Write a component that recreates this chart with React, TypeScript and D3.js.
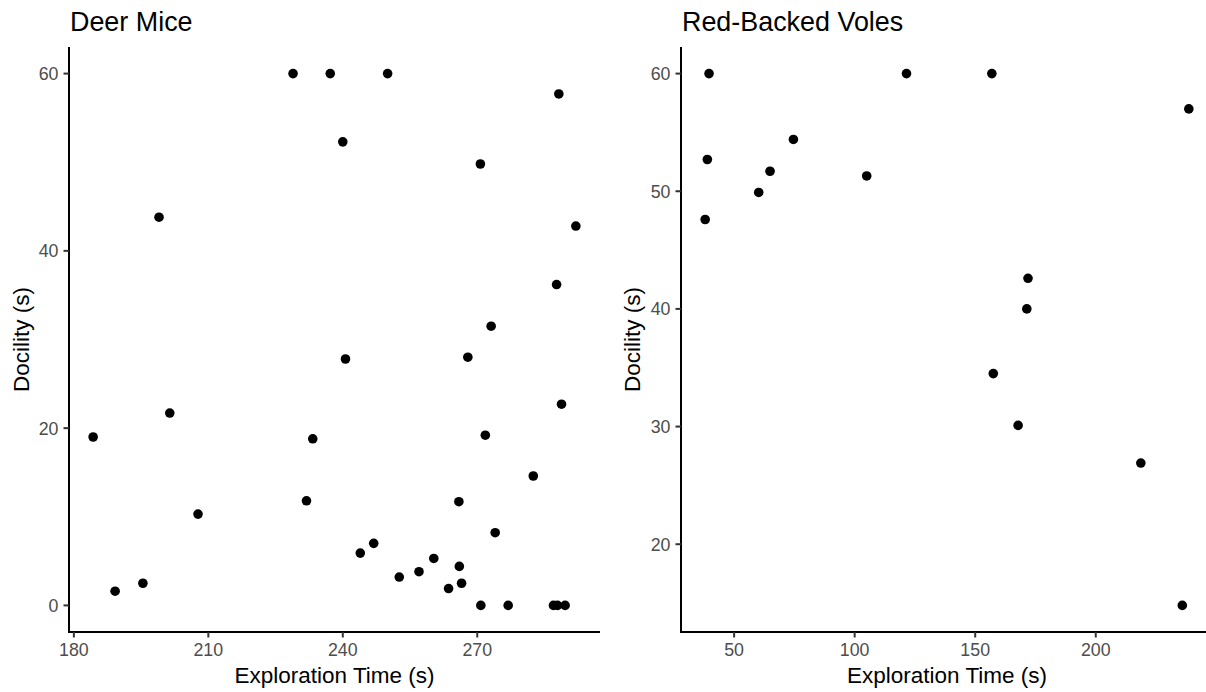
import React from "react";
import * as d3 from "d3";

// Deer Mice
const deerExploration = [
  228.9, 237.2, 250.0, 288.2, 240.0, 270.7, 199.0, 292.0, 287.7, 273.1,
  240.6, 267.9, 288.8, 201.4, 184.3, 233.3, 271.8, 189.2, 195.4, 207.7,
  231.9, 282.5, 265.9, 274.0, 243.9, 246.9, 260.3, 252.6, 257.0, 266.0,
  263.6, 266.5, 270.8, 276.9, 287.0, 287.9, 289.6,
];
const deerDocility = [
  60, 60, 60, 57.7, 52.3, 49.8, 43.8, 42.8, 36.2, 31.5,
  27.8, 28.0, 22.7, 21.7, 19.0, 18.8, 19.2, 1.6, 2.5, 10.3,
  11.8, 14.6, 11.7, 8.2, 5.9, 7.0, 5.3, 3.2, 3.8, 4.4,
  1.9, 2.5, 0, 0, 0, 0, 0,
];

// Red-Backed Voles
const voleExploration = [
  39.6, 38.9, 38.0, 60.2, 64.9, 74.6, 105.0, 121.5, 156.9, 238.6,
  171.9, 171.4, 157.5, 167.8, 218.7, 235.9,
];
const voleDocility = [
  60, 52.7, 47.6, 49.9, 51.7, 54.4, 51.3, 60, 60, 57.0,
  42.6, 40.0, 34.5, 30.1, 26.9, 14.8,
];

const deerXTicks = [180, 210, 240, 270];
const deerYTicks = [0, 20, 40, 60];
const voleXTicks = [50, 100, 150, 200];
const voleYTicks = [20, 30, 40, 50, 60];

const FONT = "'Liberation Sans', Arial, Helvetica, sans-serif";

function expand(vals: number[]): [number, number] {
  const [a, b] = d3.extent(vals) as [number, number];
  const p = (b - a) * 0.05;
  return [a - p, b + p];
}

type PanelProps = {
  title: string;
  xs: number[];
  ys: number[];
  xTicks: number[];
  yTicks: number[];
  left: number;
  right: number;
  yTitleX: number;
};

const TOP = 47;
const BOTTOM = 632;

function Panel({ title, xs, ys, xTicks, yTicks, left, right, yTitleX }: PanelProps) {
  const x = d3.scaleLinear().domain(expand(xs)).range([left, right]);
  const y = d3.scaleLinear().domain(expand(ys)).range([BOTTOM, TOP]);
  const tickLen = 5.5;
  return (
    <g>
      <text x={left + 1} y={30.5} fontSize={26.9} fontFamily={FONT} fill="#000">
        {title}
      </text>
      {xs.map((v, i) => (
        <circle key={i} cx={x(v)} cy={y(ys[i])} r={4.8} fill="#000" />
      ))}
      <line x1={left} x2={left} y1={TOP} y2={BOTTOM + 1} stroke="#000" strokeWidth={2} />
      <line x1={left - 1} x2={right} y1={BOTTOM} y2={BOTTOM} stroke="#000" strokeWidth={2} />
      {yTicks.map((t) => (
        <g key={"y" + t}>
          <line x1={left - tickLen} x2={left} y1={y(t)} y2={y(t)} stroke="#333" strokeWidth={2} />
          <text
            x={left - tickLen - 5}
            y={y(t)}
            dy="0.36em"
            textAnchor="end"
            fontSize={17.8}
            fontFamily={FONT}
            fill="#4D4D4D"
          >
            {t}
          </text>
        </g>
      ))}
      {xTicks.map((t) => (
        <g key={"x" + t}>
          <line x1={x(t)} x2={x(t)} y1={BOTTOM} y2={BOTTOM + tickLen} stroke="#333" strokeWidth={2} />
          <text
            x={x(t)}
            y={656}
            textAnchor="middle"
            fontSize={17.8}
            fontFamily={FONT}
            fill="#4D4D4D"
          >
            {t}
          </text>
        </g>
      ))}
      <text
        x={(left + right) / 2}
        y={683}
        textAnchor="middle"
        fontSize={22.5}
        fontFamily={FONT}
        fill="#000"
      >
        Exploration Time (s)
      </text>
      <text
        transform={`translate(${yTitleX},${(TOP + BOTTOM) / 2}) rotate(-90)`}
        textAnchor="middle"
        fontSize={22.5}
        fontFamily={FONT}
        fill="#000"
      >
        Docility (s)
      </text>
    </g>
  );
}

export default function App() {
  return (
    <svg
      width={1206}
      height={692}
      style={{ position: "absolute", left: 0, top: 0, background: "#fff", overflow: "hidden" }}
    >
      <rect x={0} y={0} width={1206} height={692} fill="#fff" />
      <Panel
        title="Deer Mice"
        xs={deerExploration}
        ys={deerDocility}
        xTicks={deerXTicks}
        yTicks={deerYTicks}
        left={69}
        right={600}
        yTitleX={28.5}
      />
      <Panel
        title="Red-Backed Voles"
        xs={voleExploration}
        ys={voleDocility}
        xTicks={voleXTicks}
        yTicks={voleYTicks}
        left={681}
        right={1213}
        yTitleX={640}
      />
    </svg>
  );
}
